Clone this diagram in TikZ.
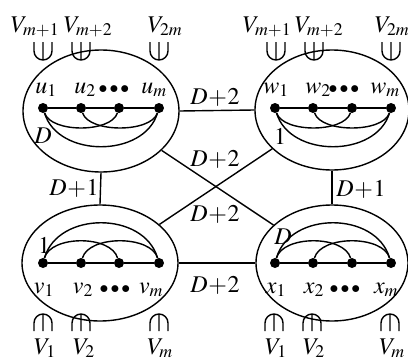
\documentclass[tikz,border=0pt]{standalone}
\usepackage{mathptmx}
\usetikzlibrary{shapes.geometric}
\newcommand{\mydots}{{\scriptstyle\bullet\,\bullet\,\bullet}}
\begin{document}
\begin{tikzpicture}[x=1pt,y=-1pt,font=\fontsize{24}{28}\selectfont,
  dot/.style={circle,fill,inner sep=0pt,minimum size=10pt},
  grp/.style={ellipse,draw,line width=1.4pt,inner sep=0pt},
  edge/.style={line width=1.4pt},
  lab/.style={inner sep=0pt,anchor=base},
  clab/.style={inner sep=0pt},
  sym/.style={line width=1.4pt}]
\useasboundingbox (0,0) rectangle (408,362);
% groups
\node[grp,minimum width=156pt,minimum height=122pt] (A) at (101,111) {};
\node[grp,minimum width=154pt,minimum height=120pt] (B) at (332,110) {};
\node[grp,minimum width=156pt,minimum height=116pt] (C) at (100,263) {};
\node[grp,minimum width=152pt,minimum height=116pt] (D) at (332,263) {};
% dots
\foreach \i/\x in {1/43,2/81,3/119,4/159}{
  \node[dot] (u\i) at (\x,108) {};
  \node[dot] (v\i) at (\x,263) {};}
\foreach \i/\x in {1/275,2/313,3/352,4/391}{
  \node[dot] (w\i) at (\x,108) {};
  \node[dot] (x\i) at (\x,263) {};}
% inner edges
\draw[edge] (u1) -- (u2) -- (u3) -- (u4);
\draw[edge] (u1) .. controls +(8,25) and +(-8,25) .. (u3);
\draw[edge] (u2) .. controls +(8,25) and +(-8,25) .. (u4);
\draw[edge] (u1) .. controls +(15,50) and +(-15,50) .. (u4);
\draw[edge] (w1) -- (w2) -- (w3) -- (w4);
\draw[edge] (w1) .. controls +(8,25) and +(-8,25) .. (w3);
\draw[edge] (w2) .. controls +(8,25) and +(-8,25) .. (w4);
\draw[edge] (w1) .. controls +(15,50) and +(-15,50) .. (w4);
\draw[edge] (v1) -- (v2) -- (v3) -- (v4);
\draw[edge] (v1) .. controls +(8,-28) and +(-8,-28) .. (v3);
\draw[edge] (v2) .. controls +(8,-28) and +(-8,-28) .. (v4);
\draw[edge] (v1) .. controls +(15,-52) and +(-15,-52) .. (v4);
\draw[edge] (x1) -- (x2) -- (x3) -- (x4);
\draw[edge] (x1) .. controls +(8,-28) and +(-8,-28) .. (x3);
\draw[edge] (x2) .. controls +(8,-28) and +(-8,-28) .. (x4);
\draw[edge] (x1) .. controls +(15,-52) and +(-15,-52) .. (x4);
% group connectors
\draw[edge] (A.east) -- (B.west);
\draw[edge] (C.east) -- (D.west);
\draw[edge] (A.south) -- (C.north);
\draw[edge] (B.south) -- (D.north);
\draw[edge] (A.-33) -- (D.147);
\draw[edge] (B.-147) -- (C.33);
% connector labels
\node[clab] (l1) at (215,97) {$D\!+\!2$};
\node[clab] (l2) at (215,159) {$D\!+\!2$};
\node[clab] (l3) at (215,214) {$D\!+\!2$};
\node[clab] (l4) at (215,285) {$D\!+\!2$};
\node[clab] (l5) at (74,188) {$D\!+\!1$};
\node[clab] (l6) at (361,189) {$D\!+\!1$};
% inner labels
\node[clab] (d1) at (43,136) {$D$};
\node[clab] (d2) at (280,136) {$1$};
\node[clab] (d3) at (44,245) {$1$};
\node[clab] (d4) at (283,237) {$D$};
% vertex labels
\node[lab] (tu1) at (46,93) {$u_1$};
\node[lab] (tu2) at (85,93) {$u_2$};
\node[lab] (tu3) at (114,93) {$\mydots$};
\node[lab] (tu4) at (154,93) {$u_m$};
\node[lab] (tw1) at (276,93) {$w_1$};
\node[lab] (tw2) at (318,93) {$w_2$};
\node[lab] (tw3) at (344,93) {$\mydots$};
\node[lab] (tw4) at (385,93) {$w_m$};
\node[lab] (tv1) at (44,293) {$v_1$};
\node[lab] (tv2) at (83,293) {$v_2$};
\node[lab] (tv3) at (115,293) {$\mydots$};
\node[lab] (tv4) at (151,293) {$v_m$};
\node[lab] (tx1) at (276,293) {$x_1$};
\node[lab] (tx2) at (314,293) {$x_2$};
\node[lab] (tx3) at (345,293) {$\mydots$};
\node[lab] (tx4) at (386,293) {$x_m$};
% set labels
\node[lab] (s1) at (35,32) {$V_{m+1}$};
\node[lab] (s2) at (88,32) {$V_{m+2}$};
\node[lab] (s3) at (165,32) {$V_{2m}$};
\node[lab] (s4) at (267,32) {$V_{m+1}$};
\node[lab] (s5) at (319,32) {$V_{m+2}$};
\node[lab] (s6) at (392,32) {$V_{2m}$};
\node[lab] (b1) at (45,354) {$V_1$};
\node[lab] (b2) at (84,354) {$V_2$};
\node[lab] (b3) at (160,354) {$V_m$};
\node[lab] (b4) at (276,354) {$V_1$};
\node[lab] (b5) at (314,354) {$V_2$};
\node[lab] (b6) at (392,354) {$V_m$};
% membership symbols
\foreach \x in {43,81,159,276,314,391}
  \draw[sym] (\x-9,42) -- (\x-9,51) arc[start angle=180,end angle=0,radius=9] -- (\x+9,42) (\x,42) -- (\x,60);
\foreach \x in {43,81,159,274,312,390}
  \draw[sym] (\x-9,331) -- (\x-9,323) arc[start angle=180,end angle=360,radius=9] -- (\x+9,331) (\x,314) -- (\x,331);
\end{tikzpicture}
\end{document}
